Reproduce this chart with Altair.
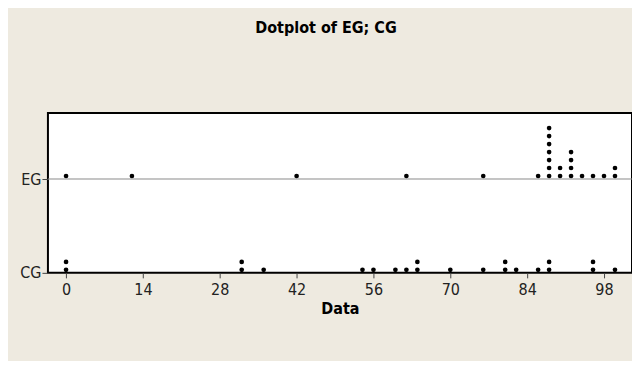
import altair as alt
import pandas as pd

groups = ["EG", "CG"]
eg_values = [0, 12, 42, 62, 76, 86, 88, 88, 88, 88, 88, 88, 88, 90, 90,
             92, 92, 92, 92, 94, 96, 98, 100, 100]
cg_values = [0, 0, 32, 32, 36, 54, 56, 60, 62, 64, 64, 70, 76, 80, 80,
             82, 86, 88, 88, 96, 96, 100]
x_ticks = [0, 14, 28, 42, 56, 70, 84, 98]

# stacking: each repeated value is stacked one dot higher
BASE = {"CG": 0.0, "EG": 11.75}
rows = []
for g, vals in (("EG", eg_values), ("CG", cg_values)):
    counts = {}
    for v in vals:
        k = counts.get(v, 0)
        counts[v] = k + 1
        rows.append({"group": g, "value": v, "level": BASE[g] + 0.375 + k})
df = pd.DataFrame(rows)

FONT = "DejaVu Sans Condensed"

xscale = alt.Scale(domain=[-3.3, 103.1], nice=False, zero=False)
yscale = alt.Scale(domain=[0, 20], nice=False, zero=False)

dots = alt.Chart(df).mark_circle(size=22, color="black", opacity=1).encode(
    x=alt.X("value:Q", scale=xscale,
            axis=alt.Axis(values=x_ticks, title="Data", grid=False, domain=False,
                          tickColor="#444", tickSize=5, labelFont=FONT,
                          labelFontSize=16, labelColor="#222", labelPadding=4,
                          titleFont=FONT, titleFontSize=16,
                          titleFontWeight="bold", titleColor="black", titlePadding=3)),
    y=alt.Y("level:Q", scale=yscale,
            axis=alt.Axis(values=[BASE["CG"], BASE["EG"]],
                          labelExpr="datum.value == 0 ? 'CG' : 'EG'",
                          title=None, grid=False, domain=False, tickColor="#444",
                          tickSize=6, labelFont=FONT, labelFontSize=16,
                          labelColor="#222", labelPadding=1)),
)

line_df = pd.DataFrame({"level": [BASE["EG"]]})
rule = alt.Chart(line_df).mark_rule(color="#8a8a8a", strokeWidth=1).encode(
    y=alt.Y("level:Q", scale=yscale)
)

chart = (rule + dots).properties(
    width=585, height=160,
    title=alt.TitleParams("Dotplot of EG; CG", font=FONT, fontSize=16,
                          fontWeight="bold", color="black", anchor="middle",
                          offset=77, dx=-14),
    padding={"left": 40, "top": 105, "right": 0, "bottom": 88},
    autosize=alt.AutoSizeParams(type="none"),
    background="#EEEAE0",
).configure_view(stroke="black", strokeWidth=2, fill="white")

chart.save("out.html", embed_options={"renderer": "svg", "actions": False})
